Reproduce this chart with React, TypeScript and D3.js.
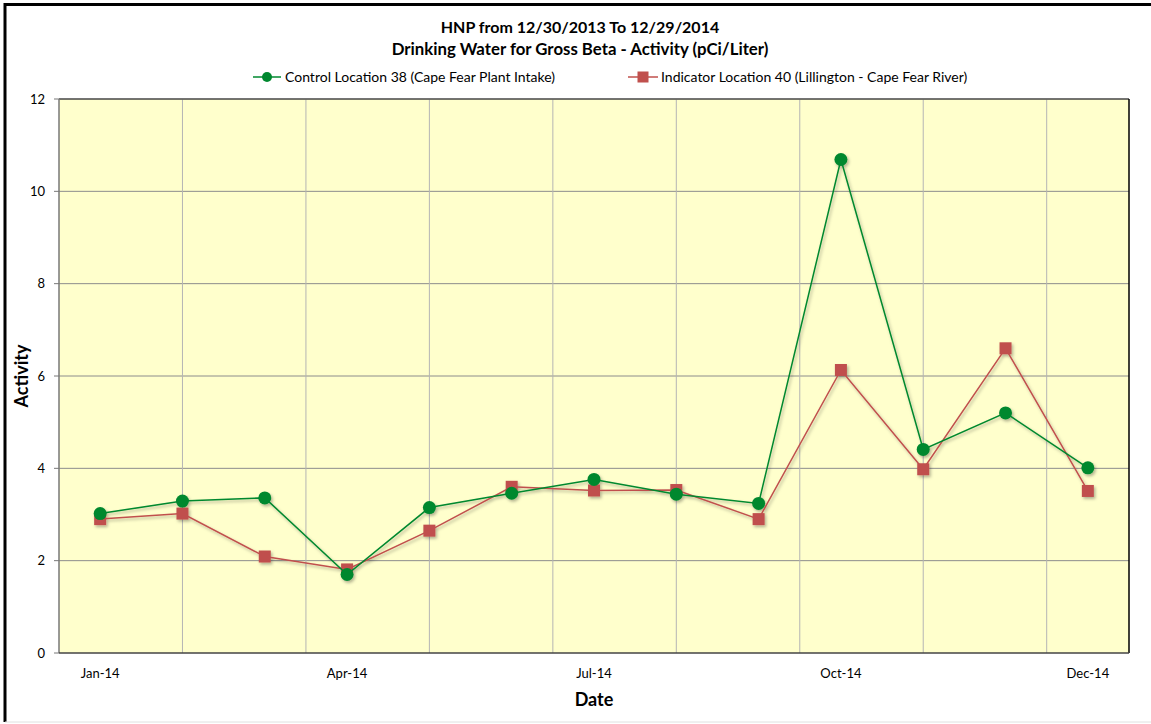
import * as d3 from "d3"

// values
const categories = [
  "Jan-14", "Feb-14", "Mar-14", "Apr-14", "May-14", "Jun-14", "Jul-14",
  "Aug-14", "Sep-14", "Oct-14", "Nov-14", "Nov-14", "Dec-14",
]
const controlValues = [3.02, 3.29, 3.36, 1.7, 3.15, 3.46, 3.76, 3.44, 3.24, 10.69, 4.41, 5.2, 4.01]
const indicatorValues = [2.9, 3.02, 2.09, 1.81, 2.65, 3.6, 3.52, 3.53, 2.9, 6.13, 3.98, 6.6, 3.51]
const xTickIndex = [0, 3, 6, 9, 12]
const yTicks = [0, 2, 4, 6, 8, 10, 12]

const W = 1151
const H = 724
const FONT = "Lato, 'Open Sans', sans-serif"
const GREEN = "#00882f"
const RED = "#c0504d"

export default function App() {
  const left = 59
  const right = 1129
  const top = 99
  const bottom = 653

  const x = d3.scaleLinear().domain([-0.5, categories.length - 0.5]).range([left, right])
  const y = d3.scaleLinear().domain([0, 12]).range([bottom, top])
  const gridX = d3.range(-0.5, categories.length - 0.5, 1.5)

  const line = d3
    .line<number>()
    .x((_, i) => x(i))
    .y((d) => y(d))

  return (
    <svg width={W} height={H} style={{ position: "absolute", left: 0, top: 0 }} fontFamily={FONT}>
      <defs>
        <filter id="shadow" x="-20%" y="-20%" width="140%" height="140%">
          <feDropShadow dx="1.5" dy="2" stdDeviation="1.5" floodColor="#000" floodOpacity="0.3" />
        </filter>
      </defs>
      <rect x={0} y={0} width={W} height={H} fill="#fff" />
      {/* outer chart frame */}
      <line x1={5} y1={4.5} x2={W} y2={4.5} stroke="#000" strokeWidth={3} />
      <line x1={5} y1={3} x2={5} y2={722} stroke="#000" strokeWidth={3} />
      <line x1={5} y1={722} x2={W} y2={722} stroke="#e0e0e0" strokeWidth={1} />

      {/* title */}
      <text x={580} y={33} textAnchor="middle" fontSize={16} fontWeight="bold">
        HNP from 12/30/2013 To 12/29/2014
      </text>
      <text x={580} y={54.5} textAnchor="middle" fontSize={16.8} fontWeight="bold">
        Drinking Water for Gross Beta - Activity (pCi/Liter)
      </text>

      {/* legend */}
      <g fontSize={14}>
        <line x1={253} x2={281} y1={77} y2={77} stroke={GREEN} strokeWidth={1.5} />
        <circle cx={267} cy={77} r={5} fill={GREEN} />
        <text x={285} y={81.5}>Control Location 38 (Cape Fear Plant Intake)</text>
        <line x1={628} x2={658} y1={77} y2={77} stroke={RED} strokeWidth={1.5} />
        <rect x={637.5} y={71.5} width={11} height={11} fill={RED} />
        <text x={661} y={81.5}>Indicator Location 40 (Lillington - Cape Fear River)</text>
      </g>

      {/* plot area */}
      <rect x={left} y={top} width={right - left} height={bottom - top} fill="#ffffcc" />
      {yTicks.slice(1).map((t) => (
        <line key={t} x1={left} x2={right} y1={y(t)} y2={y(t)} stroke="#8c8c8c" strokeWidth={1} />
      ))}
      {gridX.slice(1).map((g) => (
        <line key={g} x1={x(g)} x2={x(g)} y1={top} y2={bottom} stroke="#b4b4b4" strokeWidth={1} />
      ))}
      <line x1={left} x2={right} y1={top} y2={top} stroke="#222" strokeWidth={1} />
      <line x1={right} x2={right} y1={top} y2={bottom} stroke="#000" strokeWidth={1.5} />
      <line x1={left} x2={left} y1={top} y2={bottom} stroke="#777" strokeWidth={1.5} />
      <line x1={left} x2={right} y1={bottom} y2={bottom} stroke="#444" strokeWidth={1.5} />

      {/* y axis */}
      <g fontSize={13} textAnchor="end">
        {yTicks.map((t) => (
          <g key={t}>
            <line x1={left - 5} x2={left} y1={y(t)} y2={y(t)} stroke="#777" />
            <text x={45} y={y(t) + 4.5}>
              {t}
            </text>
          </g>
        ))}
      </g>

      {/* x axis */}
      <g fontSize={13} textAnchor="middle">
        {xTickIndex.map((i) => (
          <text key={i} x={x(i)} y={678}>
            {categories[i]}
          </text>
        ))}
      </g>

      <text x={594} y={706} textAnchor="middle" fontSize={18} fontWeight="bold">
        Date
      </text>
      <text
        transform={`translate(28,376) rotate(-90)`}
        textAnchor="middle"
        fontSize={18}
        fontWeight="bold"
      >
        Activity
      </text>

      {/* series */}
      <g filter="url(#shadow)">
        <path d={line(indicatorValues) ?? ""} fill="none" stroke={RED} strokeWidth={1.5} />
        {indicatorValues.map((v, i) => (
          <rect key={i} x={x(i) - 6} y={y(v) - 6} width={12} height={12} fill={RED} />
        ))}
        <path d={line(controlValues) ?? ""} fill="none" stroke={GREEN} strokeWidth={1.5} />
        {controlValues.map((v, i) => (
          <circle key={i} cx={x(i)} cy={y(v)} r={6.5} fill={GREEN} />
        ))}
      </g>
    </svg>
  )
}
